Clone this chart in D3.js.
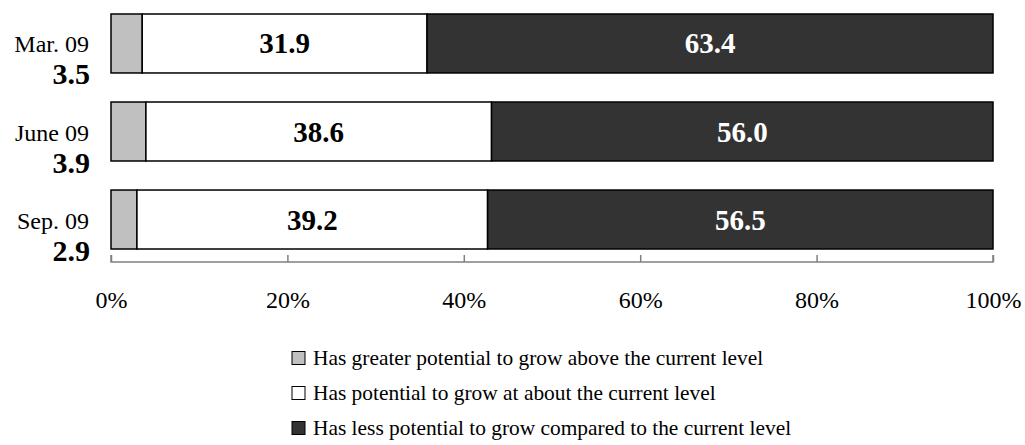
<!DOCTYPE html>
<html>
<head>
<meta charset="utf-8">
<script src="https://cdn.jsdelivr.net/npm/d3@7"></script>
<style>
  body { margin: 0; background: #fff; }
  svg { display: block; font-family: "Liberation Serif", "Times New Roman", serif; }
</style>
</head>
<body>
<svg id="chart" width="1025" height="445"></svg>
<script>
// data
const periods = ['Mar. 09', 'June 09', 'Sep. 09']
const greater = [3.5, 3.9, 2.9]
const about = [31.9, 38.6, 39.2]
const less = [63.4, 56.0, 56.5]
const seriesNames = [
  'Has greater potential to grow above the current level',
  'Has potential to grow at about the current level',
  'Has less potential to grow compared to the current level'
]
const tickValues = [0, 0.2, 0.4, 0.6, 0.8, 1]

const colors = ['#c0c0c0', '#ffffff', '#333333']
const textColors = ['#000', '#000', '#fff']

const svg = d3.select('#chart')

//scales
const x = d3.scaleLinear().domain([0, 1]).range([111, 993])
const y = d3.scaleBand().domain(periods).range([14, 249]).paddingInner(0.33).paddingOuter(0)

//build stacked rows, normalised to 100%
const rows = periods.map((p, i) => {
  const vals = [greater[i], about[i], less[i]]
  const total = d3.sum(vals)
  let acc = 0
  return vals.map((v, k) => {
    const seg = { period: p, k, value: v, x0: acc / total, x1: (acc + v) / total }
    acc += v
    return seg
  })
})

const bars = svg.append('g')
rows.forEach(row => {
  const g = bars.append('g')
  g.selectAll('rect')
    .data(row)
    .enter()
    .append('rect')
    .attr('x', d => x(d.x0))
    .attr('y', d => y(d.period))
    .attr('width', d => x(d.x1) - x(d.x0))
    .attr('height', y.bandwidth())
    .attr('fill', d => colors[d.k])
    .attr('stroke', '#000')
    .attr('stroke-width', 1.5)

  // value labels inside the two big segments
  g.selectAll('text')
    .data(row.filter(d => d.k > 0))
    .enter()
    .append('text')
    .attr('x', d => (x(d.x0) + x(d.x1)) / 2)
    .attr('y', d => y(d.period) + y.bandwidth() / 2 + 10)
    .attr('text-anchor', 'middle')
    .attr('font-size', 29)
    .attr('font-weight', 'bold')
    .attr('fill', d => textColors[d.k])
    .text(d => d.value.toFixed(1))
})

//category labels with the small share below
const cats = svg.append('g')
periods.forEach((p, i) => {
  const cy = y(p) + y.bandwidth() / 2
  cats.append('text')
    .attr('x', 89)
    .attr('y', cy + 9)
    .attr('text-anchor', 'end')
    .attr('font-size', 24)
    .text(p)
  cats.append('text')
    .attr('x', 90)
    .attr('y', cy + 41)
    .attr('text-anchor', 'end')
    .attr('font-size', 30)
    .attr('font-weight', 'bold')
    .text(greater[i].toFixed(1))
})

//x axis, ticks pointing up
const axisY = 262
const xAxis = d3.axisBottom(x)
  .tickValues(tickValues)
  .tickFormat(d3.format('.0%'))
  .tickSize(-7)
  .tickPadding(0)

const axisG = svg.append('g')
  .attr('transform', `translate(0,${axisY})`)
  .call(xAxis)
axisG.select('.domain')
  .attr('d', `M${x(0)},-7V0H${x(1)}V-7`)
  .attr('stroke', '#808080')
  .attr('stroke-width', 1.5)
axisG.selectAll('.tick line')
  .attr('stroke', '#808080')
  .attr('stroke-width', 1.5)
axisG.selectAll('.tick text')
  .attr('y', 46)
  .attr('dy', 0)
  .attr('font-size', 24)
  .attr('font-family', '"Liberation Serif", serif')
  .attr('fill', '#000')

//legend
const legend = svg.append('g')
seriesNames.forEach((name, i) => {
  const ly = 358 + i * 35
  legend.append('rect')
    .attr('x', 292)
    .attr('y', ly - 6.5)
    .attr('width', 13)
    .attr('height', 13)
    .attr('fill', colors[i])
    .attr('stroke', '#000')
    .attr('stroke-width', 1)
  legend.append('text')
    .attr('x', 313)
    .attr('y', ly + 7)
    .attr('font-size', 21.4)
    .text(name)
})
</script>
</body>
</html>
